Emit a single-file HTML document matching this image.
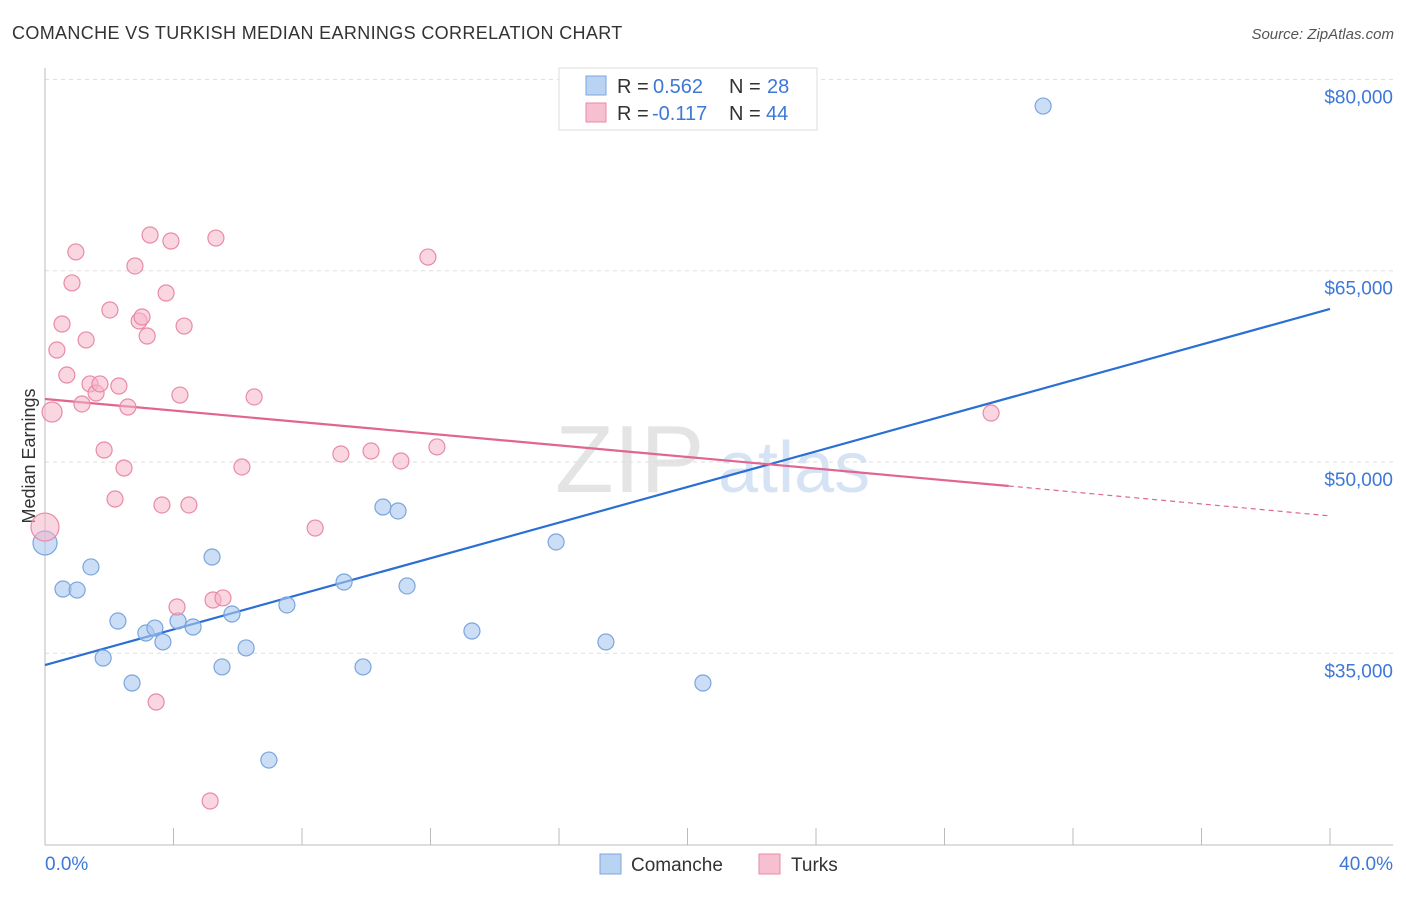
<!DOCTYPE html>
<html><head><meta charset="utf-8"><style>
body{margin:0;background:#fff;font-family:"Liberation Sans",sans-serif}
svg text{font-family:"Liberation Sans",sans-serif}
</style></head><body>
<svg id="chart" width="1406" height="892" xmlns="http://www.w3.org/2000/svg">
<text x="12" y="39" font-size="18" fill="#333" letter-spacing="0.35">COMANCHE VS TURKISH MEDIAN EARNINGS CORRELATION CHART</text>
<text x="1394" y="39" font-size="15" fill="#555" font-style="italic" text-anchor="end">Source: ZipAtlas.com</text>
<text x="35" y="456" font-size="18" fill="#333" text-anchor="middle" transform="rotate(-90 35 456)">Median Earnings</text>
<g><text x="555" y="492" font-size="96" font-family="Liberation Serif" fill="#e4e4e4">ZIP</text><text x="718" y="492" font-size="72" fill="#d5e3f4">atlas</text></g>
<g id="grid"></g><g id="axes"></g><g id="lines"></g><g id="pts"></g>
<g>
<rect x="559" y="68" width="258" height="62" fill="#fff" stroke="#ddd"/>
<rect x="586" y="76" width="20" height="19" fill="#b9d3f3" stroke="#7aa5dd"/>
<rect x="586" y="103" width="20" height="19" fill="#f7c0d0" stroke="#e88aa8"/>
<text x="617" y="93" font-size="20" fill="#333">R =</text>
<text x="653" y="93" font-size="20" fill="#3d78d8">0.562</text>
<text x="729" y="93" font-size="20" fill="#333">N =</text>
<text x="767" y="93" font-size="20" fill="#3d78d8">28</text>
<text x="617" y="120" font-size="20" fill="#333">R =</text>
<text x="652" y="120" font-size="20" fill="#3d78d8">-0.117</text>
<text x="729" y="120" font-size="20" fill="#333">N =</text>
<text x="766" y="120" font-size="20" fill="#3d78d8">44</text>
</g>
<g>
<rect x="600" y="854" width="21" height="20" fill="#b9d3f3" stroke="#7aa5dd"/>
<text x="631" y="871" font-size="19" fill="#333">Comanche</text>
<rect x="759" y="854" width="21" height="20" fill="#f7c0d0" stroke="#e88aa8"/>
<text x="791" y="871" font-size="19" fill="#333">Turks</text>
</g>
</svg>
<script>
const comancheX=[0,0.56,1.0,1.43,1.81,2.27,2.71,3.14,3.42,3.67,4.14,4.61,5.20,5.51,5.82,6.26,6.97,7.53,9.31,9.90,10.52,10.99,11.27,13.29,15.91,17.46,20.48,31.07];
const comancheY=[43650,40040,39960,41770,34630,37530,32670,36590,36980,35890,37530,37060,42550,33930,38080,35420,26630,38790,40590,33930,46470,46160,40280,36750,43730,35890,32670,77910];
const turksX=[0,0.22,0.37,0.53,0.68,0.84,0.96,1.15,1.28,1.40,1.59,1.71,1.84,2.02,2.18,2.30,2.46,2.58,2.80,2.93,3.02,3.18,3.27,3.46,3.64,3.77,3.92,4.11,4.20,4.33,4.48,5.14,5.23,5.32,5.54,6.13,6.51,8.41,9.21,10.15,11.08,11.92,12.20,29.45];
const turksY=[44900,53920,58780,60820,56820,64040,66470,54550,59570,56120,55410,56120,50940,61920,47100,55960,49530,54310,65370,61060,61370,59880,67800,31180,46630,63250,67330,38630,55250,60660,46630,23420,39180,67560,39340,49610,55100,44820,50630,50860,50080,66070,51180,53840];
const yTicks=[35000,50000,65000,80000];
const yTickLabels=["$35,000","$50,000","$65,000","$80,000"];
const xTicks=[0,4,8,12,16,20,24,28,32,36,40];
const blueTrend=[34080,62000];
const pinkTrend=[54940,48120,45770];
const X=v=>45+v/40*1285;
const Y=v=>462-(v-50000)*191.3/15000;
const NS="http://www.w3.org/2000/svg";
function mk(p,t,a){const e=document.createElementNS(NS,t);for(const k in a)e.setAttribute(k,a[k]);document.getElementById(p).appendChild(e);return e;}
yTicks.forEach((v,i)=>{
 const g=mk('grid','line',{x1:45,x2:1393,y1:Y(v),y2:Y(v),stroke:'#ddd','stroke-dasharray':'4,4'});
 
 
 const t=mk('grid','text',{x:1393,y:Y(v)+24,'font-size':19,fill:'#3d78d8','text-anchor':'end'});
 t.textContent=yTickLabels[i];
 
 
});
let a=mk('axes','line',{x1:45,x2:45,y1:68,y2:845,stroke:'#bbb'});


a=mk('axes','line',{x1:45,x2:1393,y1:845,y2:845,stroke:'#bbb'});


xTicks.forEach(v=>{const l=mk('axes','line',{x1:X(v),x2:X(v),y1:828,y2:845,stroke:'#bbb'});
 
 });
let t=mk('axes','text',{x:45,y:870,'font-size':19,fill:'#3d78d8'});t.textContent='0.0%';


t=mk('axes','text',{x:1393,y:870,'font-size':19,fill:'#3d78d8','text-anchor':'end'});t.textContent='40.0%';


comancheX.forEach((x,i)=>{const c=mk('pts','circle',{cx:X(x),cy:Y(comancheY[i]),r:x===0?12:8,fill:'rgba(170,200,240,0.6)',stroke:'#7aa5dd','stroke-width':1.2});
 
 });
turksX.forEach((x,i)=>{const c=mk('pts','circle',{cx:X(x),cy:Y(turksY[i]),r:x===0?14:(i===1?10:8),fill:'rgba(245,180,200,0.55)',stroke:'#e88aa8','stroke-width':1.2});
 
 });
let l=mk('lines','line',{x1:X(0),y1:Y(blueTrend[0]),x2:X(40),y2:Y(blueTrend[1]),stroke:'#2a6fd4','stroke-width':2.2});


l=mk('lines','line',{x1:X(0),y1:Y(pinkTrend[0]),x2:X(30),y2:Y(pinkTrend[1]),stroke:'#e0668f','stroke-width':2.2});


l=mk('lines','line',{x1:X(30),y1:Y(pinkTrend[1]),x2:X(40),y2:Y(pinkTrend[2]),stroke:'#e0668f','stroke-width':1.2,'stroke-dasharray':'5,4'});


</script>
</body></html>
